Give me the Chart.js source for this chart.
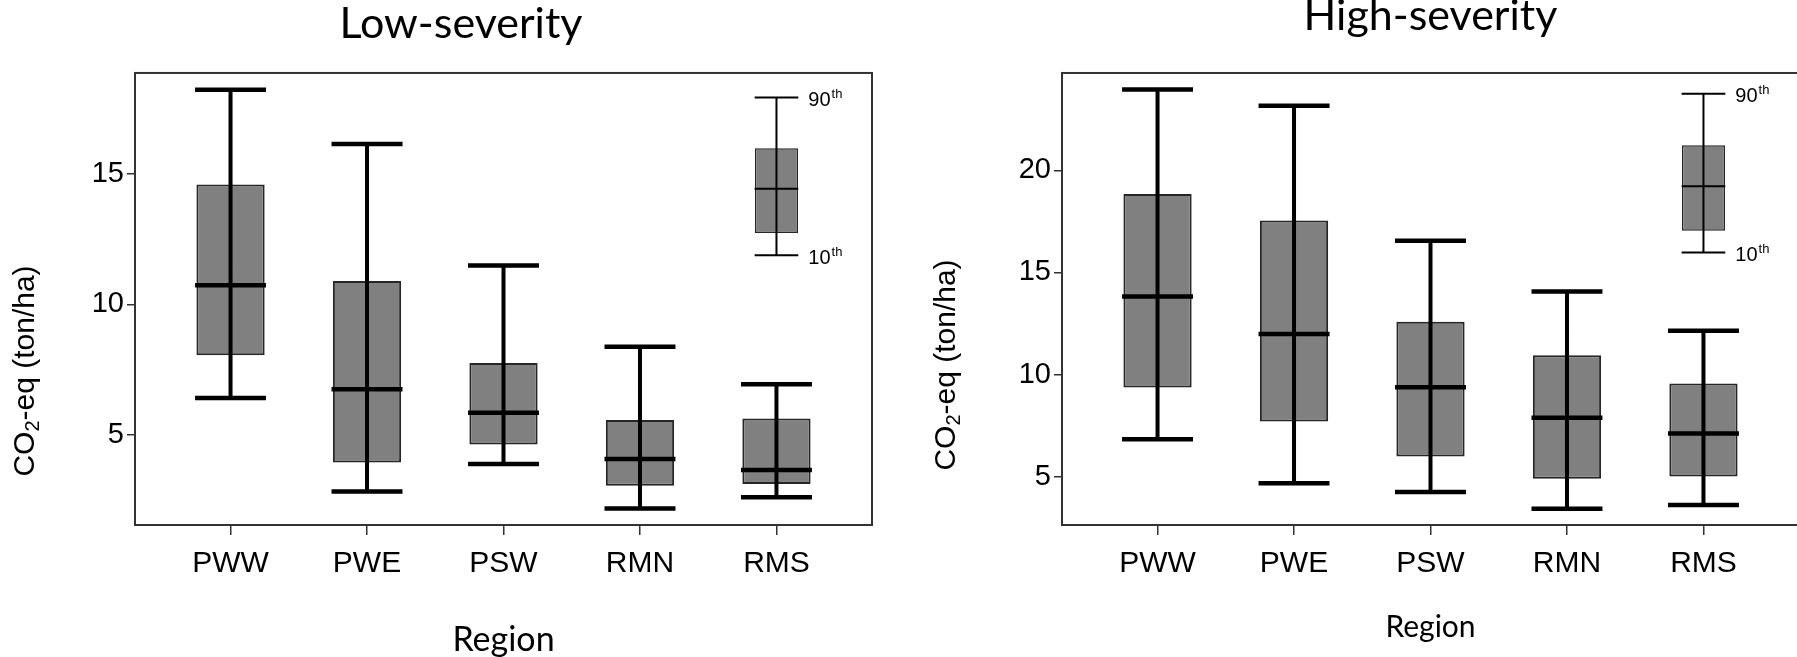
<!DOCTYPE html>
<html>
<head>
<meta charset="utf-8">
<script src="https://cdn.jsdelivr.net/npm/chart.js@4.4.1/dist/chart.umd.min.js"></script>
<style>
  html, body { margin: 0; padding: 0; background: #fff; overflow: hidden; width: 1797px; height: 657px; }
  canvas { position: absolute; top: 0; }
  #low { left: 0; }
  #high { left: 900px; }
</style>
</head>
<body>
<canvas id="low" width="900" height="657"></canvas>
<canvas id="high" width="920" height="657"></canvas>
<script>
const regions = ['PWW', 'PWE', 'PSW', 'RMN', 'RMS'];

// low-severity: 10th, 25th, median, 75th, 90th percentile
const lowP10 = [6.41, 2.83, 3.89, 2.18, 2.61];
const lowQ1  = [8.05, 3.94, 4.63, 3.05, 3.12];
const lowMed = [10.73, 6.75, 5.85, 4.08, 3.66];
const lowQ3  = [14.59, 10.89, 7.75, 5.57, 5.63];
const lowP90 = [18.22, 16.14, 11.49, 8.38, 6.94];

// high-severity
const highP10 = [6.83, 4.68, 4.25, 3.43, 3.61];
const highQ1  = [9.36, 7.70, 5.98, 4.89, 5.00];
const highMed = [13.82, 11.98, 9.38, 7.88, 7.11];
const highQ3  = [18.84, 17.55, 12.58, 10.95, 9.56];
const highP90 = [23.96, 23.17, 16.55, 14.07, 12.14];

// key box in the corner (10th, 25th, median, 75th, 90th)
const lowKey  = [11.88, 12.73, 14.43, 15.98, 17.92];
const highKey = [15.98, 17.04, 19.22, 21.23, 23.75];

const lowTicks  = [5, 10, 15];
const highTicks = [5, 10, 15, 20];
const lowRange  = [1.55, 18.86];
const highRange = [2.63, 24.77];
const xRange    = [0.3, 5.7];

const CAP = 0.26;      // half width of whisker caps (x units)
const KEY_CAP = 0.16;
const KEY_X = 5;
const ARIAL = '"Liberation Sans", Arial, sans-serif';
const LATO = 'Lato, "Open Sans", sans-serif';

Chart.defaults.font.family = ARIAL;
Chart.defaults.color = '#000';

function vLines(xs, lo, hi) {
    const pts = [];
    xs.forEach((x, i) => pts.push({ x: x, y: lo[i] }, { x: x, y: hi[i] }, { x: x, y: null }));
    return pts;
}

function hLines(xs, vals, half) {
    const pts = [];
    xs.forEach((x, i) => pts.push({ x: x - half, y: vals[i] }, { x: x + half, y: vals[i] }, { x: x + half, y: null }));
    return pts;
}

function line(data, width) {
    return {
        type: 'line', data: data, borderColor: '#000', borderWidth: width,
        pointRadius: 0, fill: false, spanGaps: false, tension: 0, order: 1
    };
}

function boxDatasets(p10, q1, med, q3, p90, key) {
    const xs = regions.map((r, i) => i + 1);
    return [
        {
            type: 'bar', data: xs.map((x, i) => ({ x: x, y: [q1[i], q3[i]] })),
            backgroundColor: '#808080', borderColor: '#262626', borderWidth: 2,
            borderSkipped: false, grouped: false, barPercentage: 0.5, categoryPercentage: 1, order: 3
        },
        {
            type: 'bar', data: [{ x: KEY_X, y: [key[1], key[3]] }],
            backgroundColor: '#808080', borderColor: '#262626', borderWidth: 1.5,
            borderSkipped: false, grouped: false, barPercentage: 0.316, categoryPercentage: 1, order: 3
        },
        line(vLines(xs, p10, p90), 4),
        line(hLines(xs, p10, CAP).concat(hLines(xs, p90, CAP)), 4.5),
        line(hLines(xs, med, CAP), 4.5),
        line(vLines([KEY_X], [key[0]], [key[4]]), 2),
        line(hLines([KEY_X, KEY_X, KEY_X], [key[0], key[2], key[4]], KEY_CAP), 2)
    ];
}

/* frame, y title and key labels */
const extras = {
    id: 'extras',
    afterDraw(chart, args, opts) {
        const { ctx, chartArea: a } = chart;
        const x = chart.scales.x, y = chart.scales.y;
        ctx.save();
        ctx.strokeStyle = '#333';
        ctx.lineWidth = 2;
        ctx.strokeRect(a.left, a.top, a.right - a.left, a.bottom - a.top);

        // y axis title with subscript
        ctx.fillStyle = '#000';
        ctx.textBaseline = 'middle';
        ctx.textAlign = 'left';
        const big = '30px ' + ARIAL, small = '20px ' + ARIAL;
        ctx.font = big;
        const w1 = ctx.measureText('CO').width, w3 = ctx.measureText('-eq (ton/ha)').width;
        ctx.font = small;
        const w2 = ctx.measureText('2').width;
        const total = w1 + w2 + w3;
        ctx.translate(opts.titleX, opts.titleY);
        ctx.rotate(-Math.PI / 2);
        let cx = -total / 2;
        ctx.font = big;
        ctx.fillText('CO', cx, 0);
        cx += w1;
        ctx.font = small;
        ctx.fillText('2', cx, 7);
        cx += w2;
        ctx.font = big;
        ctx.fillText('-eq (ton/ha)', cx, 0);
        ctx.setTransform(1, 0, 0, 1, 0, 0);

        // key labels
        const lx = x.getPixelForValue(KEY_X + KEY_CAP) + 10;
        [[opts.key[4], '90'], [opts.key[0], '10']].forEach(([v, t]) => {
            const py = y.getPixelForValue(v) + 3;
            ctx.font = '20px ' + ARIAL;
            ctx.fillText(t, lx, py);
            const tw = ctx.measureText(t).width;
            ctx.font = '13px ' + ARIAL;
            ctx.fillText('th', lx + tw + 1, py - 6);
        });
        ctx.restore();
    }
};

function makeChart(id, cfg) {
    return new Chart(document.getElementById(id), {
        type: 'bar',
        data: { datasets: boxDatasets(cfg.p10, cfg.q1, cfg.med, cfg.q3, cfg.p90, cfg.key) },
        options: {
            responsive: false,
            animation: false,
            devicePixelRatio: 1,
            layout: { padding: cfg.padding },
            plugins: {
                legend: { display: false },
                tooltip: { enabled: false },
                title: {
                    display: true, text: cfg.title, color: '#000', fullSize: cfg.titleFull,
                    font: { family: LATO, size: 43, weight: 'normal', lineHeight: cfg.titleLH },
                    padding: { top: 0, bottom: cfg.titlePad }
                },
                extras: { titleX: cfg.yTitleX, titleY: cfg.yTitleY, key: cfg.key }
            },
            scales: {
                x: {
                    type: 'linear', min: xRange[0], max: xRange[1], offset: false,
                    afterBuildTicks: s => { s.ticks = regions.map((r, i) => ({ value: i + 1 })); },
                    ticks: {
                        callback: (v, i) => regions[i], font: { size: 30 }, color: '#000',
                        padding: 11, maxRotation: 0, autoSkip: false
                    },
                    grid: { offset: false, drawOnChartArea: false, tickLength: 10, color: '#333', lineWidth: 1.5 },
                    border: { display: false },
                    title: {
                        display: true, text: 'Region', color: '#000',
                        font: { family: LATO, size: cfg.xTitleSize, lineHeight: 1.0 },
                        padding: { top: 0, bottom: cfg.xTitlePad }
                    },
                    afterFit: s => { s.height = 132; }
                },
                y: {
                    type: 'linear', min: cfg.range[0], max: cfg.range[1],
                    afterBuildTicks: s => { s.ticks = cfg.ticks.map(v => ({ value: v })); },
                    ticks: { font: { size: 29 }, color: '#000', padding: 3 },
                    grid: { drawOnChartArea: false, tickLength: 8, color: '#333', lineWidth: 1.5 },
                    border: { display: false },
                    afterFit: s => { s.width = cfg.yWidth; }
                }
            }
        },
        plugins: [extras]
    });
}

makeChart('low', {
    title: 'Low-severity', titleFull: true, titleLH: 1.12, titlePad: 24.8,
    padding: { left: 50, right: 28, top: 0, bottom: 0 }, yWidth: 85,
    p10: lowP10, q1: lowQ1, med: lowMed, q3: lowQ3, p90: lowP90, key: lowKey,
    range: lowRange, ticks: lowTicks, yTitleX: 26, yTitleY: 371,
    xTitleSize: 34, xTitlePad: 0
});

makeChart('high', {
    title: 'High-severity', titleFull: false, titleLH: 0.76, titlePad: 40.3,
    padding: { left: 0, right: 21, top: 0, bottom: 0 }, yWidth: 162,
    p10: highP10, q1: highQ1, med: highMed, q3: highQ3, p90: highP90, key: highKey,
    range: highRange, ticks: highTicks, yTitleX: 47, yTitleY: 365,
    xTitleSize: 30, xTitlePad: 15
});
</script>
</body>
</html>
